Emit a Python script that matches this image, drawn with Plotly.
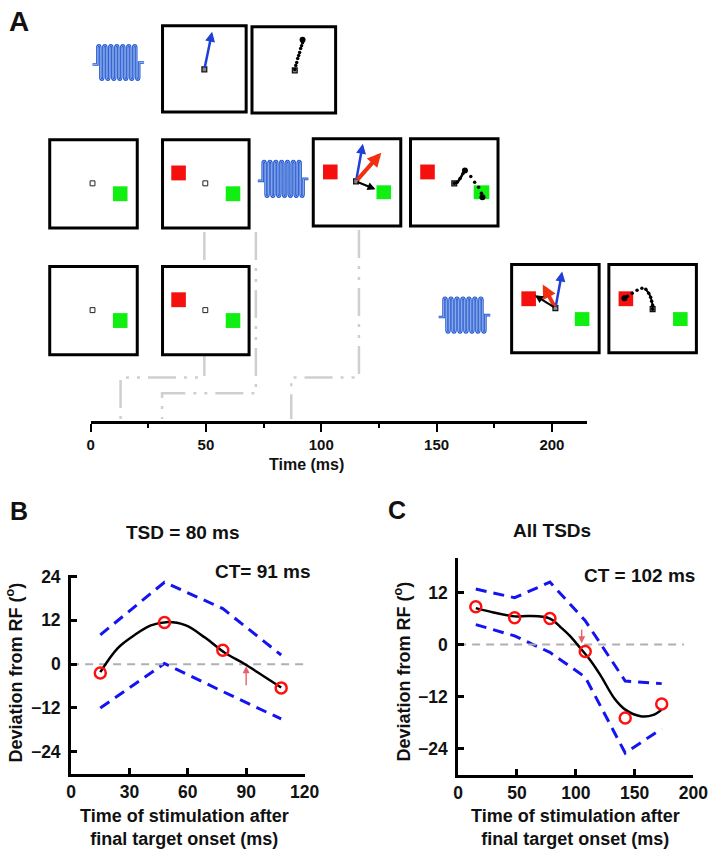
import plotly.graph_objects as go

W, H = 725, 853
FONT = "Liberation Sans, Arial, Helvetica, sans-serif"

# ---------------- Panel B data ----------------
b_stim_time = [15, 48, 78, 108]
b_deviation = [-2.4, 11.4, 3.8, -6.5]
b_ci_upper = [8.0, 22.4, 15.2, 2.5]
b_ci_lower = [-12.0, 0.2, -7.5, -15.0]
b_fit_time = [15, 24, 33, 41, 49, 59, 69, 79, 89, 99, 108]
b_fit_dev = [-2.2, 4.4, 8.1, 10.6, 11.5, 10.6, 7.2, 3.1, 0.1, -3.3, -6.4]
b_ct = 90
b_x_ticks = [0, 30, 60, 90, 120]
b_y_ticks = [-24, -12, 0, 12, 24]

# ---------------- Panel C data ----------------
c_stim_time = [15, 48, 78, 108, 142, 173]
c_deviation = [8.7, 6.2, 6.0, -1.6, -16.9, -13.7]
c_ci_upper = [12.8, 10.8, 14.4, 5.5, -8.4, -9.0]
c_ci_lower = [4.6, 2.0, -1.8, -7.5, -25.0, -19.4]
c_fit_time = [15, 30, 48, 60, 78, 88, 95, 105, 112, 121, 133, 142, 155, 166, 173]
c_fit_dev = [8.4, 7.4, 6.5, 6.6, 6.0, 3.8, 2.0, -1.2, -3.5, -7.1, -12.5, -15.0, -16.5, -16.2, -15.0]
c_ct = 105
c_x_ticks = [0, 50, 100, 150, 200]
c_y_ticks = [-24, -12, 0, 12]

# ---------------- Panel A (schematic) ----------------
a_time_ticks = [0, 50, 100, 150, 200]
a_stim_times = [13, 31, 87]          # where the dash-dot leaders meet the time line
# schematic layout in pixel space (x, y from top-left)
TL_X0, TL_X1, TL_Y, TL_MAX = 88, 598, 417, 215
boxes = [(162, 18, 248, 105), (254, 19, 340, 106),
         (46, 133, 136, 222), (162, 133, 251, 222), (317, 132, 407, 220), (417, 132, 507, 220),
         (46, 261, 136, 350), (162, 261, 251, 350), (521, 259, 611, 348), (621, 259, 711, 348)]
red_squares = [(171, 159, 186, 174), (327, 158, 342, 173), (427, 158, 442, 173),
               (171, 287, 186, 302), (531, 286, 546, 301), (631, 286, 646, 301)]
green_squares = [(111, 180, 126, 195), (227, 180, 242, 195), (382, 179, 397, 193), (482, 179, 498, 193),
                 (111, 308, 126, 323), (227, 308, 242, 323), (586, 307, 601, 321), (687, 307, 702, 321)]
fix_points = [(90, 177), (206, 177), (90, 305), (206, 305)]
origin_points = [(205, 62), (361, 175), (566, 303), (298, 63), (462, 177), (666, 304)]
coils = [(90, 143, 38, 72), (260, 312, 155, 190), (446, 499, 293, 327)]
leader_tops = [(205, 226, 373), (258, 226, 389), (364, 224, 373)]
# arrows: (tail_x, tail_y, head_x, head_y, color, width)
vec_arrows = [(205, 62, 213, 24, "#1f3fd8", 2.5),
              (361, 175, 368, 137, "#1f3fd8", 2.5), (361, 175, 387, 146, "#f03010", 4), (361, 175, 381, 183, "#000000", 2),
              (566, 303, 573, 266, "#1f3fd8", 2.5), (566, 303, 553, 279, "#f03010", 4), (566, 303, 545, 290, "#000000", 2)]
traj1_x = [298, 299, 300, 301, 302, 303, 304, 305, 306, 306]
traj1_y = [62, 58, 55, 51, 48, 45, 41, 38, 35, 32]
traj2_x = [462, 465, 468, 471, 473, 479, 483, 487, 490, 491]
traj2_y = [177, 176, 172, 167, 164, 170, 176, 181, 187, 191]
traj3_x = [666, 666, 665, 664, 662, 659, 655, 650, 645, 640, 637]
traj3_y = [304, 300, 296, 292, 288, 284, 283, 285, 288, 291, 293]


def tl_px(t):
    return TL_X0 + t * (TL_X1 - TL_X0) / TL_MAX


fig = go.Figure()

# ----- Panel B traces -----
for ys in (b_ci_upper, b_ci_lower):
    fig.add_trace(go.Scatter(x=b_stim_time, y=ys, mode="lines", xaxis="x", yaxis="y",
                             line=dict(color="#1414f0", width=3, dash="11px,7px"), showlegend=False))
fig.add_trace(go.Scatter(x=[0, 120], y=[0, 0], mode="lines", xaxis="x", yaxis="y",
                         line=dict(color="#b0b0b0", width=2, dash="8px,6px"), showlegend=False))
fig.add_trace(go.Scatter(x=b_fit_time, y=b_fit_dev, mode="lines", xaxis="x", yaxis="y",
                         line=dict(color="black", width=2.5, shape="spline"), showlegend=False))
fig.add_trace(go.Scatter(x=b_stim_time, y=b_deviation, mode="markers", xaxis="x", yaxis="y",
                         marker=dict(symbol="circle-open", size=11, color="#ff1010", line=dict(width=2.5)),
                         showlegend=False))

# ----- Panel C traces -----
for ys in (c_ci_upper, c_ci_lower):
    fig.add_trace(go.Scatter(x=c_stim_time, y=ys, mode="lines", xaxis="x2", yaxis="y2",
                             line=dict(color="#1414f0", width=3, dash="11px,7px"), showlegend=False))
fig.add_trace(go.Scatter(x=[0, 192], y=[0, 0], mode="lines", xaxis="x2", yaxis="y2",
                         line=dict(color="#b0b0b0", width=2, dash="8px,6px"), showlegend=False))
fig.add_trace(go.Scatter(x=c_fit_time, y=c_fit_dev, mode="lines", xaxis="x2", yaxis="y2",
                         line=dict(color="black", width=2.5, shape="spline"), showlegend=False))
fig.add_trace(go.Scatter(x=c_stim_time, y=c_deviation, mode="markers", xaxis="x2", yaxis="y2",
                         marker=dict(symbol="circle-open", size=11, color="#ff1010", line=dict(width=2.5)),
                         showlegend=False))

# ----- Panel A trajectories -----
for tx, ty in ((traj1_x, traj1_y), (traj2_x, traj2_y), (traj3_x, traj3_y)):
    fig.add_trace(go.Scatter(x=tx, y=ty, mode="markers", xaxis="x3", yaxis="y3",
                             marker=dict(size=3.5, color="black"), showlegend=False))
fig.add_trace(go.Scatter(x=[traj1_x[-1], traj2_x[4], traj2_x[-1], traj3_x[-1]],
                         y=[traj1_y[-1], traj2_y[4], traj2_y[-1], traj3_y[-1]], mode="markers",
                         xaxis="x3", yaxis="y3", marker=dict(size=6, color="black"), showlegend=False))
fig.add_trace(go.Scatter(x=traj2_x[:5], y=traj2_y[:5], mode="lines", xaxis="x3", yaxis="y3",
                         line=dict(color="black", width=2.5, shape="spline"), showlegend=False))
fig.add_trace(go.Scatter(x=traj3_x[:6], y=traj3_y[:6], mode="lines", xaxis="x3", yaxis="y3",
                         line=dict(color="black", width=2, shape="spline"), showlegend=False))
# invisible trace for timeline axis
fig.add_trace(go.Scatter(x=[0], y=[0], mode="markers", xaxis="x4", yaxis="y4",
                         marker=dict(opacity=0), showlegend=False, hoverinfo="skip"))

shapes = []
# leaders (dash-dot)
for (xt, ytop, yh), t in zip(leader_tops, a_stim_times):
    xb = tl_px(t)
    shapes.append(dict(type="path", xref="x3", yref="y3", layer="below",
                       path=f"M{xt},{ytop} L{xt},{yh} L{xb},{yh} L{xb},{TL_Y - 2}",
                       line=dict(color="#cfcfcf", width=2.5, dash="28px,8px,3px,8px,3px,8px")))
for (x0, y0, x1, y1) in boxes:
    shapes.append(dict(type="rect", xref="x3", yref="y3", layer="below", x0=x0, y0=y0, x1=x1, y1=y1,
                       line=dict(color="black", width=3), fillcolor="white"))
for (x0, y0, x1, y1) in red_squares:
    shapes.append(dict(type="rect", xref="x3", yref="y3", layer="below", x0=x0, y0=y0, x1=x1, y1=y1,
                       line=dict(width=0), fillcolor="#f50f0f"))
for (x0, y0, x1, y1) in green_squares:
    shapes.append(dict(type="rect", xref="x3", yref="y3", layer="below", x0=x0, y0=y0, x1=x1, y1=y1,
                       line=dict(width=0), fillcolor="#11ee11"))
for (x, y) in fix_points:
    shapes.append(dict(type="rect", xref="x3", yref="y3", layer="below", x0=x - 2.5, y0=y - 2.5, x1=x + 2.5,
                       y1=y + 2.5, line=dict(color="#222", width=1), fillcolor="white"))
for (x, y) in origin_points:
    shapes.append(dict(type="rect", xref="x3", yref="y3", layer="below", x0=x - 2.5, y0=y - 2.5, x1=x + 2.5,
                       y1=y + 2.5, line=dict(color="#111", width=1.2), fillcolor="#888"))


def coil_path(x0, x1, yt, yb):
    ym = (yt + yb) / 2
    n = 14
    c0, c1 = x0 + 5, x1 - 5
    st = (c1 - c0) / n
    h = 2.0
    s = f"M{x0},{ym + 2} L{c0},{ym + 2} L{c0},{yt + h}"
    for k in range(n):
        xa = c0 + k * st
        xb = xa + st
        if k % 2 == 0:
            s += f" C{xa},{yt - h * 0.6} {xb},{yt - h * 0.6} {xb},{yt + h}"
            s += f" L{xb},{yb - h}"
        else:
            s += f" C{xa},{yb + h * 0.6} {xb},{yb + h * 0.6} {xb},{yb - h}"
            s += f" L{xb},{yt + h}" if k < n - 1 else f" L{xb},{ym}"
    s += f" L{x1},{ym}"
    return s


for (x0, x1, yt, yb) in coils:
    p = coil_path(x0, x1, yt, yb)
    shapes.append(dict(type="path", xref="x3", yref="y3", layer="below", path=p,
                       line=dict(color="#1f55cf", width=2.6)))
    shapes.append(dict(type="path", xref="x3", yref="y3", layer="below", path=p,
                       line=dict(color="#b8d0f7", width=0.7)))

annotations = []
for (tx, ty, hx, hy, col, w) in vec_arrows:
    annotations.append(dict(x=hx, y=hy, ax=tx, ay=ty, xref="x3", yref="y3", axref="x3", ayref="y3",
                            text="", showarrow=True, arrowhead=2, arrowsize=0.8 if w < 3 else 0.7,
                            arrowwidth=w, arrowcolor=col, standoff=0, startstandoff=0))
# CT arrows in B and C
annotations.append(dict(x=b_ct, y=-0.6, ax=b_ct, ay=-6.2, xref="x", yref="y", axref="x", ayref="y",
                        text="", showarrow=True, arrowhead=2, arrowsize=1, arrowwidth=1.4,
                        arrowcolor="#e8606a", standoff=0))
annotations.append(dict(x=c_ct, y=0.3, ax=c_ct, ay=3.8, xref="x2", yref="y2", axref="x2", ayref="y2",
                        text="", showarrow=True, arrowhead=2, arrowsize=1, arrowwidth=1.4,
                        arrowcolor="#e8606a", standoff=0))


def txt(x, y, s, size, angle=0, bold=True):
    annotations.append(dict(x=x, y=y, xref="x3", yref="y3", text=s, showarrow=False, textangle=angle,
                            xanchor="center", yanchor="middle",
                            font=dict(family=FONT, size=size, color="#111", weight="bold" if bold else "normal")))


txt(14, 14, "A", 28)
txt(14, 508, "B", 25)
txt(403, 507, "C", 25)
txt(310, 461, "Time (ms)", 16)
txt(183, 529, "TSD = 80 ms", 19)
txt(265, 569, "CT= 91 ms", 19)
txt(563, 527, "All TSDs", 19)
txt(653, 573, "CT = 102 ms", 19)
txt(10, 671, "Deviation from RF (<sup>o</sup>)", 18, angle=-90)
txt(409, 670, "Deviation from RF (<sup>o</sup>)", 18, angle=-90)
txt(185, 827, "Time of stimulation after<br>final target onset (ms)", 18)
txt(587, 827, "Time of stimulation after<br>final target onset (ms)", 18)

tickfont = dict(family=FONT, size=17.5, color="#111", weight="bold")
ax_common = dict(showline=True, linewidth=3, linecolor="black", ticks="inside", ticklen=6, tickwidth=2.5,
                 tickcolor="black", showgrid=False, zeroline=False, tickfont=tickfont, fixedrange=True)

fig.update_layout(
    width=W, height=H, margin=dict(l=0, r=0, t=0, b=0),
    paper_bgcolor="white", plot_bgcolor="rgba(0,0,0,0)", showlegend=False,
    xaxis=dict(domain=[68 / W, 308 / W], range=[0, 120], tickvals=b_x_ticks, anchor="y",
               ticklabelstandoff=0, **ax_common),
    yaxis=dict(domain=[1 - 773 / H, 1 - 572 / H], range=[-30, 24.5], tickvals=b_y_ticks, anchor="x",
               ticklabelstandoff=4, **ax_common),
    xaxis2=dict(domain=[466 / W, 708 / W], range=[0, 200], tickvals=c_x_ticks, anchor="y2",
                ticklabelstandoff=0, **ax_common),
    yaxis2=dict(domain=[1 - 774 / H, 1 - 555 / H], range=[-30, 20], tickvals=c_y_ticks, anchor="x2",
                ticklabelstandoff=4, **ax_common),
    xaxis3=dict(domain=[0, 1], range=[0, W], visible=False, anchor="y3", fixedrange=True),
    yaxis3=dict(domain=[0, 1], range=[H, 0], visible=False, anchor="x3", fixedrange=True),
    xaxis4=dict(domain=[TL_X0 / W, TL_X1 / W], range=[0, TL_MAX], tickvals=a_time_ticks, anchor="y4",
                showline=True, linewidth=2.5, linecolor="black", ticks="outside", ticklen=8, tickwidth=2,
                tickcolor="black", showgrid=False, zeroline=False, fixedrange=True,
                minor=dict(dtick=25, tick0=0, ticks="outside", ticklen=4, tickwidth=2, tickcolor="black"),
                tickfont=dict(family=FONT, size=15, color="#111", weight="bold")),
    yaxis4=dict(domain=[1 - TL_Y / H, 1 - TL_Y / H + 0.01], visible=False, anchor="x4", fixedrange=True),
    shapes=shapes, annotations=annotations,
)

fig.write_html("out.html", config={"displayModeBar": False},
               post_script="document.body.style.margin='0';document.body.style.overflow='hidden';")
